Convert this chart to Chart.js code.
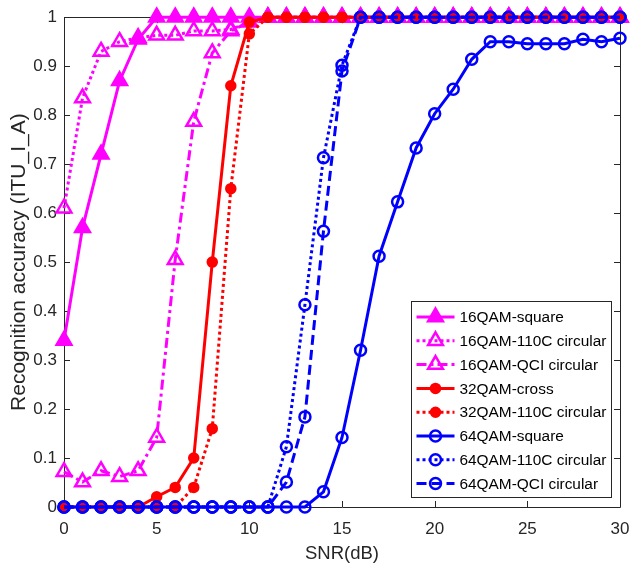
<!DOCTYPE html>
<html>
<head>
<meta charset="utf-8">
<script src="https://cdn.jsdelivr.net/npm/chart.js@4.4.1/dist/chart.umd.min.js"></script>
<style>
  html, body { margin: 0; padding: 0; background: #fff; }
  #wrap { width: 631px; height: 569px; position: relative; }
</style>
</head>
<body>
<div id="wrap"><canvas id="accChart"></canvas></div>
<script>
const snr = [0,1,2,3,4,5,6,7,8,9,10,11,12,13,14,15,16,17,18,19,20,21,22,23,24,25,26,27,28,29,30];

const qam16Square = [0.34,0.57,0.72,0.87,0.955,1,1,1,1,1,1,1,1,1,1,1,1,1,1,1,1,1,1,1,1,1,1,1,1,1,1];
const qam16C110 = [0.61,0.835,0.93,0.95,0.958,0.963,0.963,0.972,0.972,0.975,0.99,1,1,1,1,1,1,1,1,1,1,1,1,1,1,1,1,1,1,1,1];
const qam16QCI = [0.072,0.051,0.074,0.062,0.074,0.142,0.505,0.787,0.927,0.972,0.99,1,1,1,1,1,1,1,1,1,1,1,1,1,1,1,1,1,1,1,1];
const qam32Cross = [0,0,0,0,0,0.021,0.04,0.10,0.50,0.86,0.99,1,1,1,1,1,1,1,1,1,1,1,1,1,1,1,1,1,1,1,1];
const qam32C110 = [0,0,0,0,0,0,0,0.04,0.16,0.65,0.966,1,1,1,1,1,1,1,1,1,1,1,1,1,1,1,1,1,1,1,1];
const qam64Square = [0,0,0,0,0,0,0,0,0,0,0,0,0,0,0.031,0.142,0.32,0.512,0.623,0.733,0.803,0.853,0.914,0.95,0.95,0.946,0.946,0.946,0.955,0.95,0.957];
const qam64C110 = [0,0,0,0,0,0,0,0,0,0,0,0,0.123,0.413,0.713,0.902,1,1,1,1,1,1,1,1,1,1,1,1,1,1,1];
const qam64QCI = [0,0,0,0,0,0,0,0,0,0,0,0,0.051,0.184,0.563,0.89,1,1,1,1,1,1,1,1,1,1,1,1,1,1,1];

const seriesNames = ['16QAM-square','16QAM-110C circular','16QAM-QCI circular','32QAM-cross','32QAM-110C circular','64QAM-square','64QAM-110C circular','64QAM-QCI circular'];
const seriesValues = [qam16Square, qam16C110, qam16QCI, qam32Cross, qam32C110, qam64Square, qam64C110, qam64QCI];
const yTicks = [0,0.1,0.2,0.3,0.4,0.5,0.6,0.7,0.8,0.9,1];
const xTicks = [0,5,10,15,20,25,30];

const MAG = '#ff00ff', RED = '#ff0000', BLUE = '#0000ff';
const DOT = [3,3], DASHDOT = [10,4,3,4], DASH = [10,5];
const seriesStyle = [
  { color: MAG, dash: [], point: 'triangle', fill: true, r: 8.5 },
  { color: MAG, dash: DOT, point: 'triangle', fill: false, r: 8.5 },
  { color: MAG, dash: DASHDOT, point: 'triangle', fill: false, r: 8.5 },
  { color: RED, dash: [], point: 'circle', fill: true, r: 4.5 },
  { color: RED, dash: DOT, point: 'circle', fill: true, r: 4.5 },
  { color: BLUE, dash: [], point: 'circle', fill: false, r: 5.5 },
  { color: BLUE, dash: DOT, point: 'circle', fill: false, r: 5.5 },
  { color: BLUE, dash: DASH, point: 'circle', fill: false, r: 5.5 }
];

const FONT = '"Liberation Sans", Arial, sans-serif';
const INK = '#262626';

const datasets = seriesNames.map((name, i) => {
  const s = seriesStyle[i];
  return {
    label: name,
    data: seriesValues[i].map((v, k) => ({ x: snr[k], y: v })),
    borderColor: s.color,
    backgroundColor: s.fill ? s.color : 'rgba(0,0,0,0)',
    borderWidth: 3,
    borderDash: s.dash,
    pointStyle: s.point,
    pointRadius: s.r,
    pointBorderWidth: 2.5,
    pointBorderColor: s.color,
    pointBackgroundColor: s.fill ? s.color : 'rgba(0,0,0,0)',
    tension: 0,
    clip: false,
    order: 8 - i
  };
});

// box + inward ticks like matlab
const axesBox = {
  id: 'axesBox',
  beforeDatasetsDraw(chart) {
    const { ctx, chartArea: a, scales } = chart;
    ctx.save();
    ctx.strokeStyle = INK;
    ctx.lineWidth = 1;
    ctx.beginPath();
    ctx.rect(Math.round(a.left) + 0.5, Math.round(a.top) + 0.5, Math.round(a.right - a.left), Math.round(a.bottom - a.top));
    ctx.stroke();
    const tl = 6;
    ctx.beginPath();
    xTicks.forEach(v => {
      const px = Math.round(scales.x.getPixelForValue(v)) + 0.5;
      ctx.moveTo(px, a.bottom); ctx.lineTo(px, a.bottom - tl);
      ctx.moveTo(px, a.top); ctx.lineTo(px, a.top + tl);
    });
    yTicks.forEach(v => {
      const py = Math.round(scales.y.getPixelForValue(v)) + 0.5;
      ctx.moveTo(a.left, py); ctx.lineTo(a.left + tl, py);
      ctx.moveTo(a.right, py); ctx.lineTo(a.right - tl, py);
    });
    ctx.stroke();
    ctx.restore();
  }
};

// legend box with line + marker samples
const boxLegend = {
  id: 'boxLegend',
  afterDraw(chart) {
    const { ctx } = chart;
    const bx = 411.5, by = 301.5, bw = 200, bh = 196;
    ctx.save();
    ctx.fillStyle = '#fff';
    ctx.fillRect(bx, by, bw, bh);
    ctx.strokeStyle = INK;
    ctx.lineWidth = 1;
    ctx.setLineDash([]);
    ctx.strokeRect(bx, by, bw, bh);
    ctx.font = '15.4px ' + FONT;
    ctx.textBaseline = 'middle';
    seriesNames.forEach((name, i) => {
      const s = seriesStyle[i];
      const y = by + 15.5 + i * 23.8;
      ctx.strokeStyle = s.color;
      ctx.lineWidth = 3;
      ctx.setLineDash(s.dash);
      ctx.beginPath();
      ctx.moveTo(bx + 5, y); ctx.lineTo(bx + 43, y);
      ctx.stroke();
      ctx.setLineDash([]);
      ctx.lineWidth = 2.5;
      ctx.fillStyle = s.fill ? s.color : 'rgba(0,0,0,0)';
      Chart.helpers.drawPoint(ctx, { pointStyle: s.point, rotation: 0, radius: s.r, borderWidth: 2.5 }, bx + 24, y);
      ctx.fillStyle = '#000';
      ctx.fillText(name, bx + 48, y + 1);
    });
    ctx.restore();
  }
};

new Chart(document.getElementById('accChart'), {
  type: 'line',
  data: { datasets },
  options: {
    responsive: true,
    maintainAspectRatio: false,
    animation: false,
    layout: { padding: { top: 15, right: 0, left: 0, bottom: 0 } },
    plugins: {
      legend: { display: false },
      tooltip: { enabled: false }
    },
    scales: {
      x: {
        type: 'linear',
        min: 0, max: 30,
        afterFit(scale) { scale.height = 62; scale.paddingRight = 9; scale.paddingLeft = 0; },
        grid: { display: false, drawTicks: false },
        border: { display: false },
        ticks: {
          stepSize: 5, padding: 12, color: INK, maxRotation: 0,
          font: { family: FONT, size: 17 }
        },
        title: {
          display: true, text: 'SNR(dB)', color: INK,
          font: { family: FONT, size: 18.5, lineHeight: 1.2 },
          padding: { top: 0, bottom: 4 }
        }
      },
      y: {
        type: 'linear',
        min: 0, max: 1,
        afterFit(scale) { scale.width = 64; },
        afterBuildTicks(scale) { scale.ticks = yTicks.map(v => ({ value: v })); },
        grid: { display: false, drawTicks: false },
        border: { display: false },
        ticks: {
          padding: 7, color: INK,
          font: { family: FONT, size: 17 },
          callback: v => String(+v.toFixed(1))
        },
        title: {
          display: true, text: 'Recognition accuracy (ITU_I_A)', color: INK,
          font: { family: FONT, size: 21, lineHeight: 1.2 },
          padding: { top: 7, bottom: 0 }
        }
      }
    }
  },
  plugins: [axesBox, boxLegend]
});
</script>
</body>
</html>
